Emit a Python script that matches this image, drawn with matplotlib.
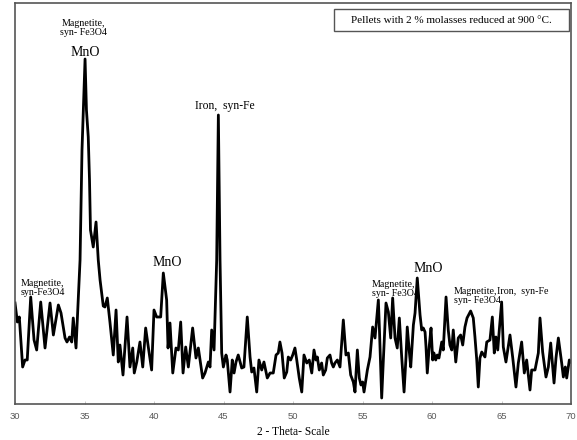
import matplotlib
matplotlib.use("Agg")
import matplotlib.pyplot as plt
from matplotlib.patches import Rectangle

# ---- data (2-theta in degrees, intensity in arbitrary units) ----
two_theta = [
    30.00, 30.17, 30.31, 30.55, 30.72, 30.88, 31.13, 31.37, 31.56, 31.85,
    32.16, 32.52, 32.76, 33.12, 33.31, 33.60, 33.74, 33.92, 34.08, 34.19,
    34.39, 34.68, 34.82, 35.04, 35.14, 35.27, 35.36, 35.43, 35.63, 35.83,
    35.99, 36.12, 36.35, 36.47, 36.64, 36.83, 37.07, 37.27, 37.43, 37.55,
    37.77, 38.06, 38.27, 38.47, 38.58, 38.76, 38.99, 39.19, 39.40, 39.59,
    39.83, 40.00, 40.19, 40.48, 40.67, 40.91, 41.01, 41.15, 41.35, 41.58,
    41.75, 41.92, 42.09, 42.28, 42.47, 42.78, 43.02, 43.19, 43.50, 43.67,
    43.91, 44.03, 44.15, 44.32, 44.51, 44.63, 44.75, 44.87, 44.99, 45.18,
    45.27, 45.47, 45.63, 45.76, 45.90, 46.06, 46.31, 46.47, 46.71, 46.91,
    47.03, 47.19, 47.39, 47.55, 47.75, 47.91, 48.15, 48.35, 48.58, 48.78,
    48.94, 49.06, 49.21, 49.37, 49.55, 49.66, 49.83, 49.98, 50.14, 50.27,
    50.45, 50.63, 50.79, 50.99, 51.17, 51.35, 51.51, 51.65, 51.75, 51.89,
    52.06, 52.18, 52.35, 52.47, 52.66, 52.78, 52.90, 53.02, 53.19, 53.38,
    53.62, 53.81, 53.98, 54.15, 54.34, 54.46, 54.63, 54.77, 54.89, 55.01,
    55.11, 55.35, 55.54, 55.73, 55.90, 56.14, 56.22, 56.38, 56.50, 56.69,
    56.86, 57.03, 57.17, 57.34, 57.50, 57.65, 57.82, 57.99, 58.13, 58.22,
    58.37, 58.47, 58.66, 58.78, 58.94, 59.14, 59.26, 59.37, 59.50, 59.57,
    59.66, 59.81, 59.93, 60.05, 60.14, 60.27, 60.38, 60.50, 60.70, 60.81,
    61.01, 61.17, 61.29, 61.42, 61.53, 61.71, 61.89, 62.06, 62.21, 62.37,
    62.52, 62.78, 62.97, 63.09, 63.22, 63.33, 63.45, 63.58, 63.81, 63.94,
    64.17, 64.34, 64.48, 64.60, 64.73, 64.84, 65.01, 65.13, 65.32, 65.61,
    65.81, 66.04, 66.21, 66.45, 66.64, 66.81, 67.05, 67.17, 67.41, 67.65,
    67.77, 67.96, 68.20, 68.37, 68.54, 68.78, 68.92, 69.09, 69.33, 69.45,
    69.59, 69.69, 69.88, 69.96,
]
intensity = [
    101, 82, 87, 37, 44, 44, 107, 64, 54, 102,
    56, 101, 69, 99, 91, 66, 62, 67, 62, 86,
    56, 144, 254, 345, 294, 267, 224, 174, 157, 182,
    144, 124, 98, 97, 106, 82, 49, 94, 42, 59,
    29, 87, 37, 56, 31, 42, 62, 37, 76, 57,
    34, 94, 87, 87, 131, 104, 56, 81, 31, 56,
    54, 82, 31, 57, 37, 76, 46, 56, 26, 31,
    42, 37, 74, 54, 144, 289, 144, 51, 37, 49,
    44, 12, 44, 31, 42, 49, 36, 37, 87, 47,
    32, 36, 12, 44, 34, 42, 26, 31, 31, 49,
    51, 62, 51, 26, 32, 47, 44, 49, 56, 44,
    26, 12, 49, 41, 44, 31, 54, 44, 47, 34,
    41, 29, 34, 46, 49, 41, 37, 41, 44, 37,
    84, 49, 51, 29, 22, 12, 54, 26, 19, 22,
    12, 34, 47, 77, 66, 104, 74, 6, 44, 101,
    92, 66, 106, 66, 56, 86, 47, 12, 47, 77,
    52, 37, 79, 91, 126, 89, 74, 76, 72, 57,
    31, 59, 76, 44, 51, 44, 49, 46, 62, 54,
    107, 74, 59, 54, 74, 42, 66, 69, 59, 77,
    86, 93, 86, 67, 44, 17, 46, 52, 47, 62,
    64, 87, 51, 67, 54, 74, 102, 57, 42, 69,
    46, 17, 41, 62, 31, 44, 14, 34, 34, 51,
    86, 52, 27, 37, 61, 21, 46, 66, 41, 27,
    37, 26, 44, 42,
]
x_ticks = [30, 35, 40, 45, 50, 55, 60, 65, 70]
x_label = "2 - Theta- Scale"
title_text = "Pellets with 2 % molasses reduced at 900 °C."

# peak labels: (text, 2theta, intensity, size, horizontal alignment)
peak_labels = [
    ("Magnetite,\nsyn- Fe3O4", 34.89, 376, 7.2, "center"),
    ("MnO", 35.04, 351, 10, "center"),
    ("Iron,  syn-Fe", 45.10, 298, 8.4, "center"),
    ("MnO", 40.94, 141, 10, "center"),
    ("Magnetite,\nsyn-Fe3O4", 30.43, 116, 7.2, "left"),
    ("Magnetite,\nsyn- Fe3O4", 55.68, 115, 7.2, "left"),
    ("MnO", 59.71, 136, 10, "center"),
    ("Magnetite,\nsyn- Fe3O4", 61.58, 108, 7.2, "left"),
    ("Iron,  syn-Fe", 64.70, 113, 7.2, "left"),
]

serif = ["Liberation Serif", "DejaVu Serif"]

fig = plt.figure(figsize=(5.77, 4.40), dpi=100)
ax = fig.add_axes([15 / 577, 36 / 440, 556 / 577, 401 / 440])

ax.plot(two_theta, intensity, color="black", lw=2.0, solid_joinstyle="round")

ax.set_xlim(30, 70)
ax.set_ylim(0, 401)
ax.set_yticks([])
ax.set_xticks(x_ticks)
ax.set_xticklabels([str(t) for t in x_ticks], fontsize=6.8, color="#595959",
                   family=["Liberation Sans", "DejaVu Sans"])
ax.tick_params(axis="x", direction="in", length=2.5, width=0.6, color="#c0c0c0", pad=6)

for s in ax.spines.values():
    s.set_color("#555555")
    s.set_linewidth(1.2)

ax.set_xlabel(x_label, family=serif, fontsize=8.3, labelpad=3)

for txt, xv, yv, fs, ha in peak_labels:
    ax.text(xv, yv, txt, family=serif, fontsize=fs, ha=ha, va="center",
            linespacing=1.0, color="black")

# title box (top right)
ax.add_patch(Rectangle((0.574, 0.930), 0.422, 0.055, transform=ax.transAxes,
                       facecolor="white", edgecolor="#555555", lw=1.0, zorder=5))
ax.text(0.785, 0.957, title_text, transform=ax.transAxes, family=serif,
        fontsize=8, ha="center", va="center", zorder=6)

fig.savefig("out.png", dpi=100)
